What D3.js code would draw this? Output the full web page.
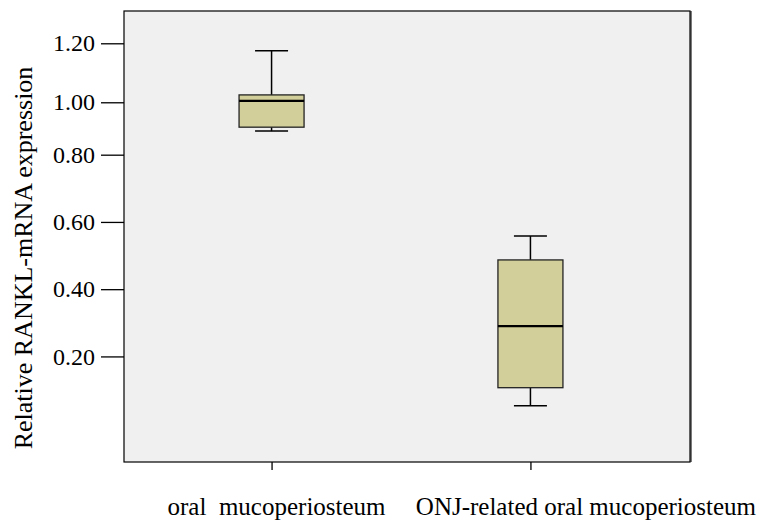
<!DOCTYPE html>
<html>
<head>
<meta charset="utf-8">
<script src="https://cdn.jsdelivr.net/npm/d3@7"></script>
<style>
  html, body { margin: 0; padding: 0; background: #ffffff; }
  svg { display: block; }
  text { font-family: "Liberation Serif", "Times New Roman", serif; fill: #000; }
</style>
</head>
<body>
<svg id="chart" width="771" height="520"></svg>
<script>
// Groups and five-number summaries of relative RANKL-mRNA expression
const categories = ["oral  mucoperiosteum", "ONJ-related oral mucoperiosteum"];
const whiskerLow  = [0.89, 0.053];
const quartile1   = [0.905, 0.107];
const medians     = [1.005, 0.29];
const quartile3   = [1.025, 0.487];
const whiskerHigh = [1.175, 0.558];

// Labelled ticks on the value axis
const tickValues = [0.20, 0.40, 0.60, 0.80, 1.00, 1.20];
// Breakpoints of the value axis (bottom edge, 0.80, 1.00, 1.20, top edge)
const axisStops = [-0.114, 0.80, 1.00, 1.20, 1.31];

const svg = d3.select("#chart");
const W = 771, H = 520;
const margin = { top: 11, right: 81, bottom: 58, left: 124 };
const pw = W - margin.left - margin.right;
const ph = H - margin.top - margin.bottom;
const serif = "'Liberation Serif', 'Times New Roman', serif";

// Polylinear scale: fraction of the plot height for each stop
const stopFractions = [1, 0.3186, 0.2024, 0.0716, 0];
const y = d3.scaleLinear()
  .domain(axisStops)
  .range(stopFractions.map(f => margin.top + f * ph));

const x = d3.scalePoint()
  .domain(categories)
  .range([margin.left, margin.left + pw - 12])
  .padding(0.57);

const boxW = 65;
const capW = 33;

// Plot background and frame
svg.append("rect")
  .attr("x", margin.left + 1).attr("y", margin.top)
  .attr("width", pw + 1).attr("height", ph)
  .attr("fill", "#7a7a7a");
svg.append("rect")
  .attr("x", margin.left).attr("y", margin.top)
  .attr("width", pw).attr("height", ph)
  .attr("fill", "#f0f0f0")
  .attr("stroke", "#000").attr("stroke-width", 1.2);

// Y axis
const yAxis = d3.axisLeft(y)
  .tickValues(tickValues)
  .tickFormat(d3.format(".2f"))
  .tickSize(23)
  .tickPadding(6);
const gy = svg.append("g")
  .attr("transform", `translate(${margin.left},0)`)
  .call(yAxis)
  .attr("font-family", serif)
  .attr("font-size", 24);
gy.select(".domain").remove();
gy.selectAll(".tick line").attr("stroke", "#000").attr("stroke-width", 1.3);
gy.selectAll(".tick text").attr("fill", "#000");

// X axis ticks
const xAxis = d3.axisBottom(x).tickSize(8).tickFormat("");
const gx = svg.append("g")
  .attr("transform", `translate(0,${margin.top + ph})`)
  .call(xAxis);
gx.select(".domain").remove();
gx.selectAll(".tick line").attr("stroke", "#000").attr("stroke-width", 1.3);

// Category labels
svg.append("text")
  .attr("x", x(categories[0]) + 5)
  .attr("y", 515)
  .attr("text-anchor", "middle")
  .attr("font-size", 25)
  .attr("xml:space", "preserve")
  .style("white-space", "pre")
  .text(categories[0]);
svg.append("text")
  .attr("x", W - 15)
  .attr("y", 515)
  .attr("text-anchor", "end")
  .attr("font-size", 25)
  .text(categories[1]);

// Y axis title
svg.append("text")
  .attr("transform", `translate(32,258) rotate(-90)`)
  .attr("text-anchor", "middle")
  .attr("font-size", 26)
  .text("Relative RANKL-mRNA expression");

// Boxes
const boxes = categories.map((c, i) => ({
  c, lo: whiskerLow[i], q1: quartile1[i], med: medians[i], q3: quartile3[i], hi: whiskerHigh[i]
}));

const g = svg.append("g");
boxes.forEach(b => {
  const cx = x(b.c);
  // whiskers
  g.append("line").attr("x1", cx).attr("x2", cx)
    .attr("y1", y(b.hi)).attr("y2", y(b.q3))
    .attr("stroke", "#000").attr("stroke-width", 1.5);
  g.append("line").attr("x1", cx).attr("x2", cx)
    .attr("y1", y(b.q1)).attr("y2", y(b.lo))
    .attr("stroke", "#000").attr("stroke-width", 1.5);
  g.append("line").attr("x1", cx - capW / 2).attr("x2", cx + capW / 2)
    .attr("y1", y(b.hi)).attr("y2", y(b.hi))
    .attr("stroke", "#000").attr("stroke-width", 1.5);
  g.append("line").attr("x1", cx - capW / 2).attr("x2", cx + capW / 2)
    .attr("y1", y(b.lo)).attr("y2", y(b.lo))
    .attr("stroke", "#000").attr("stroke-width", 1.5);
  // box
  g.append("rect")
    .attr("x", cx - boxW / 2).attr("y", y(b.q3))
    .attr("width", boxW).attr("height", y(b.q1) - y(b.q3))
    .attr("fill", "#d3cf9a")
    .attr("stroke", "#222").attr("stroke-width", 1.3);
  // median
  g.append("line").attr("x1", cx - boxW / 2).attr("x2", cx + boxW / 2)
    .attr("y1", y(b.med)).attr("y2", y(b.med))
    .attr("stroke", "#000").attr("stroke-width", 2.2);
});
</script>
</body>
</html>
